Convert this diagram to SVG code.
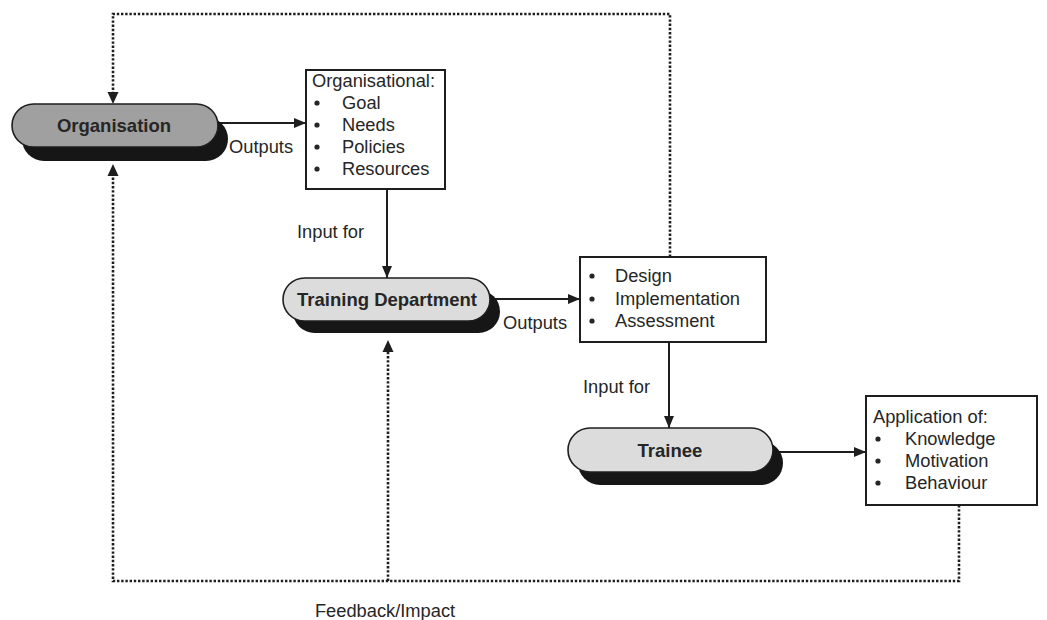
<svg xmlns="http://www.w3.org/2000/svg" width="1047" height="620" viewBox="0 0 1047 620">
  <defs>
    <marker id="head" viewBox="0 0 12 10" refX="12" refY="5" markerWidth="12" markerHeight="10" markerUnits="userSpaceOnUse" orient="auto">
      <path d="M0,0 L12,5 L0,10 Z" fill="#1e1e1e"/>
    </marker>
    <style>
      .pill { stroke: #1e1e1e; stroke-width: 1.6; }
      .shadow { fill: #161616; }
      .dark { fill: #a0a0a0; }
      .light { fill: #dcdcdc; }
      .box { fill: #ffffff; stroke: #1e1e1e; stroke-width: 2; }
      .ttl { font-family: "Liberation Sans", Arial, sans-serif; font-weight: bold; font-size: 18.5px; fill: #262626; text-anchor: middle; }
      .txt { font-family: "Liberation Sans", Arial, sans-serif; font-size: 18.3px; fill: #262626; }
      .dot { fill: #262626; }
      .solid { fill: none; stroke: #1e1e1e; stroke-width: 2; }
      .dotted { fill: none; stroke: #1e1e1e; stroke-width: 2.6; stroke-dasharray: 2.4 1.8; }
    </style>
  </defs>
  <rect width="1047" height="620" fill="#ffffff"/>

  <!-- connectors -->
  <g id="connectors">
    <!-- solid flows -->
    <line class="solid" x1="218" y1="123" x2="306" y2="123" marker-end="url(#head)"/>
    <line class="solid" x1="387" y1="189" x2="387" y2="278" marker-end="url(#head)"/>
    <line class="solid" x1="490" y1="299" x2="580" y2="299" marker-end="url(#head)"/>
    <line class="solid" x1="669" y1="342" x2="669" y2="428" marker-end="url(#head)"/>
    <line class="solid" x1="773" y1="452" x2="866" y2="452" marker-end="url(#head)"/>
    <!-- feedback loops -->
    <path class="dotted" d="M670,257 V14 H113 V93"/>
    <path class="dotted" d="M959,505 V581 H113 V175"/>
    <path class="dotted" d="M388,581 V350"/>
    <path d="M107.5,92 L118.5,92 L113,104 Z" fill="#1e1e1e"/>
    <path d="M107.5,176 L118.5,176 L113,164 Z" fill="#1e1e1e"/>
    <path d="M382.5,352 L393.5,352 L388,340 Z" fill="#1e1e1e"/>
    <!-- labels -->
    <text class="txt" x="229" y="153">Outputs</text>
    <text class="txt" x="297" y="238">Input for</text>
    <text class="txt" x="503" y="329">Outputs</text>
    <text class="txt" x="583" y="393">Input for</text>
    <text class="txt" x="385" y="617" text-anchor="middle">Feedback/Impact</text>
  </g>

  <!-- Organisation -->
  <g id="organisation">
    <rect class="shadow" x="22" y="117" width="206" height="44" rx="22"/>
    <rect class="pill dark" x="12" y="104" width="206" height="43" rx="21.5"/>
    <text class="ttl" x="114" y="132">Organisation</text>
  </g>

  <!-- Organisational outputs -->
  <g id="org-outputs">
    <rect class="box" x="306" y="70" width="139" height="119"/>
    <text class="txt" x="312" y="87">Organisational:</text>
    <circle class="dot" cx="317" cy="103" r="2.6"/>
    <circle class="dot" cx="317" cy="125" r="2.6"/>
    <circle class="dot" cx="317" cy="147" r="2.6"/>
    <circle class="dot" cx="317" cy="169" r="2.6"/>
    <text class="txt" x="342" y="109">Goal</text>
    <text class="txt" x="342" y="131">Needs</text>
    <text class="txt" x="342" y="153">Policies</text>
    <text class="txt" x="342" y="175">Resources</text>
  </g>

  <!-- Training Department -->
  <g id="training-department">
    <rect class="shadow" x="293" y="290" width="207" height="43" rx="21.5"/>
    <rect class="pill light" x="283" y="278" width="207" height="43" rx="21.5"/>
    <text class="ttl" x="387" y="306">Training Department</text>
  </g>

  <!-- Training outputs -->
  <g id="training-outputs">
    <rect class="box" x="580" y="257" width="186" height="85"/>
    <circle class="dot" cx="592" cy="276" r="2.6"/>
    <circle class="dot" cx="592" cy="299" r="2.6"/>
    <circle class="dot" cx="592" cy="321" r="2.6"/>
    <text class="txt" x="615" y="282">Design</text>
    <text class="txt" x="615" y="305">Implementation</text>
    <text class="txt" x="615" y="327">Assessment</text>
  </g>

  <!-- Trainee -->
  <g id="trainee">
    <rect class="shadow" x="578" y="441" width="205" height="44" rx="22"/>
    <rect class="pill light" x="568" y="428" width="205" height="44" rx="22"/>
    <text class="ttl" x="670" y="457">Trainee</text>
  </g>

  <!-- Application outcomes -->
  <g id="application">
    <rect class="box" x="866" y="396" width="171" height="109"/>
    <text class="txt" x="873" y="423">Application of:</text>
    <circle class="dot" cx="878" cy="439" r="2.6"/>
    <circle class="dot" cx="878" cy="461" r="2.6"/>
    <circle class="dot" cx="878" cy="483" r="2.6"/>
    <text class="txt" x="905" y="445">Knowledge</text>
    <text class="txt" x="905" y="467">Motivation</text>
    <text class="txt" x="905" y="489">Behaviour</text>
  </g>
</svg>
